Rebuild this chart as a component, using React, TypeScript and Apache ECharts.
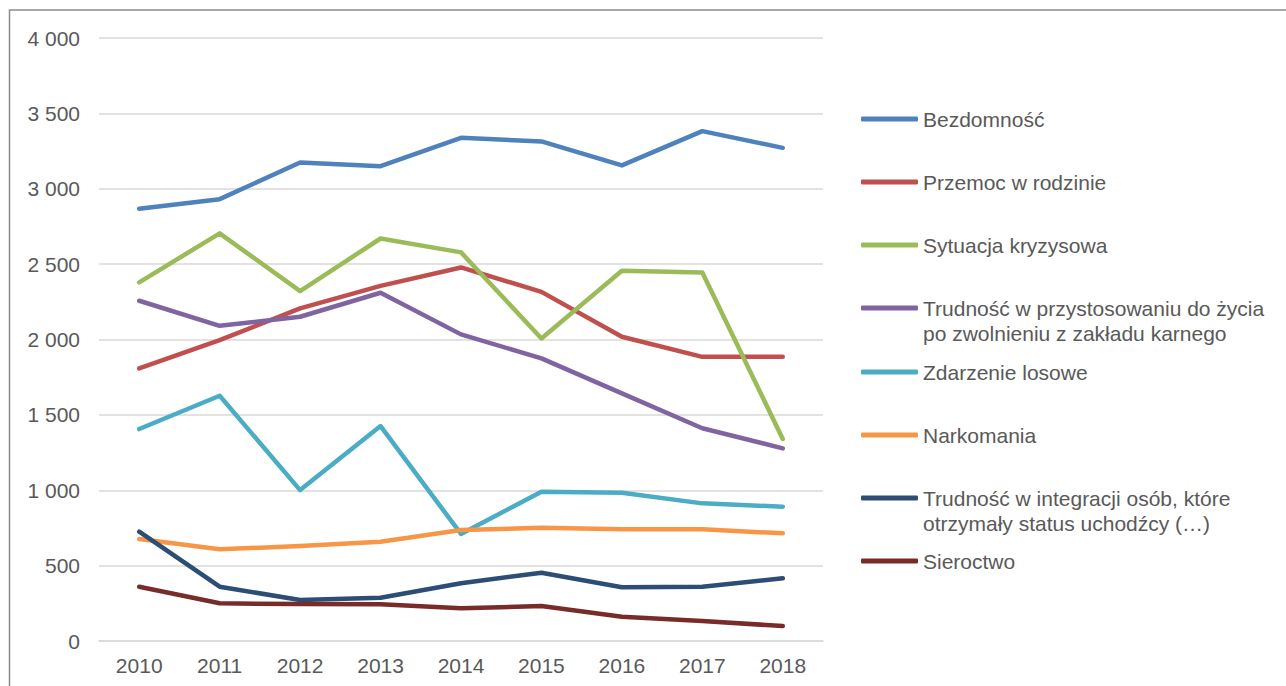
import React, { useEffect, useRef } from "react";
import * as echarts from "echarts";

const years = ["2010", "2011", "2012", "2013", "2014", "2015", "2016", "2017", "2018"];

const seriesNames = [
  "Bezdomność",
  "Przemoc w rodzinie",
  "Sytuacja kryzysowa",
  "Trudność w przystosowaniu do życia po zwolnieniu z zakładu karnego",
  "Zdarzenie losowe",
  "Narkomania",
  "Trudność w integracji osób, które otrzymały status uchodźcy (…)",
  "Sieroctwo",
];

const legendLabels = [
  "Bezdomność",
  "Przemoc w rodzinie",
  "Sytuacja kryzysowa",
  "Trudność w przystosowaniu do życia\npo zwolnieniu z zakładu karnego",
  "Zdarzenie losowe",
  "Narkomania",
  "Trudność w integracji osób, które\notrzymały status uchodźcy (…)",
  "Sieroctwo",
];

const bezdomnosc = [2867, 2931, 3174, 3150, 3338, 3314, 3155, 3382, 3271];
const przemoc = [1808, 1996, 2206, 2356, 2478, 2316, 2018, 1885, 1885];
const sytuacja = [2379, 2704, 2321, 2670, 2578, 2007, 2456, 2445, 1340];
const przystosowanie = [2257, 2091, 2151, 2310, 2034, 1875, 1643, 1411, 1278];
const zdarzenie = [1406, 1627, 1001, 1426, 710, 990, 983, 913, 891];
const narkomania = [676, 608, 630, 659, 736, 751, 741, 741, 714];
const integracja = [725, 360, 272, 287, 383, 453, 356, 360, 416];
const sieroctwo = [360, 250, 245, 243, 217, 232, 161, 133, 99];

const seriesData = [bezdomnosc, przemoc, sytuacja, przystosowanie, zdarzenie, narkomania, integracja, sieroctwo];

const colors = ["#4F81BD", "#C0504D", "#9BBB59", "#8064A2", "#4BACC6", "#F79646", "#2C4D75", "#772C2A"];

const legendIconY = [119, 182, 245, 308, 372, 435, 498, 561];

const FONT = "'Liberation Sans', Arial, sans-serif";

export default function App() {
  const ref = useRef<HTMLDivElement>(null);

  useEffect(() => {
    if (!ref.current) return;
    const chart = echarts.init(ref.current, undefined, { renderer: "svg" });

    const legends = seriesNames.map((name, i) => {
      const twoLine = legendLabels[i].includes("\n");
      return {
        data: [name],
        orient: "vertical",
        left: 861,
        top: twoLine ? legendIconY[i] - 37.5 : legendIconY[i] - 12.5,
        padding: 0,
        icon: "roundRect",
        itemWidth: 57,
        itemHeight: 5,
        selectedMode: false,
        // a leading blank line keeps the first text line level with the icon
        formatter: () => (twoLine ? "\n" + legendLabels[i] : legendLabels[i]),
        textStyle: {
          fontFamily: FONT,
          fontSize: 21,
          lineHeight: 25,
          color: "#595959",
        },
      };
    });

    chart.setOption({
      animation: false,
      backgroundColor: "#ffffff",
      color: colors,
      grid: { left: 99, right: 463, top: 38, bottom: 45, containLabel: false },
      legend: legends,
      xAxis: {
        type: "category",
        data: years,
        boundaryGap: true,
        axisLine: { lineStyle: { color: "#d9d9d9", width: 1.5 } },
        axisTick: { show: false },
        axisLabel: { fontFamily: FONT, fontSize: 21, color: "#595959", margin: 14 },
      },
      yAxis: {
        type: "value",
        min: 0,
        max: 4000,
        interval: 500,
        axisLine: { show: false },
        axisTick: { show: false },
        splitLine: { lineStyle: { color: "#d9d9d9", width: 1.5 } },
        axisLabel: {
          fontFamily: FONT,
          fontSize: 21,
          color: "#595959",
          margin: 19,
          formatter: (v: number) => String(v).replace(/\B(?=(\d{3})+(?!\d))/g, " "),
        },
      },
      series: seriesNames.map((name, i) => ({
        name,
        type: "line",
        data: seriesData[i],
        showSymbol: false,
        symbol: "none",
        lineStyle: { width: 4.5, color: colors[i], cap: "round", join: "round" },
        itemStyle: { color: colors[i] },
      })),
      graphic: [
        {
          type: "polyline",
          shape: { points: [[9.5, 700], [9.5, 10], [1290, 10]] },
          style: { stroke: "#8c8c8c", lineWidth: 1.5, fill: null },
          silent: true,
        },
      ],
    });

    return () => chart.dispose();
  }, []);

  return (
    <div
      ref={ref}
      style={{ position: "fixed", left: 0, top: 0, width: 1286, height: 686, background: "#fff" }}
    />
  );
}
